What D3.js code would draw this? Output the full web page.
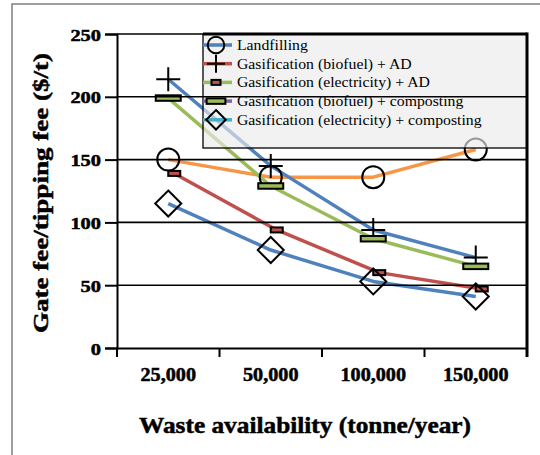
<!DOCTYPE html>
<html>
<head>
<meta charset="utf-8">
<script src="https://cdn.jsdelivr.net/npm/d3@7/dist/d3.min.js"></script>
<style>
  html, body { margin: 0; padding: 0; background: #fff; }
  svg { display: block; }
  text { font-family: "Liberation Serif", "Times New Roman", serif; }
</style>
</head>
<body>
<svg id="chart" width="540" height="455"></svg>
<script>
// Waste availability categories (tonne/year)
const categories = ["25,000", "50,000", "100,000", "150,000"];
const yTicks = [0, 50, 100, 150, 200, 250];

// Gate fee / tipping fee ($/t) per scenario
const seriesNames = [
  "Landfilling",
  "Gasification (biofuel) + AD",
  "Gasification (electricity) + AD",
  "Gasification (biofuel) + composting",
  "Gasification (electricity) + composting"
];
const landfilling = [150, 136, 136, 158];
const biofuelAD = [214, 145, 94, 72];
const electricityAD = [139, 94, 60, 47];
const biofuelComposting = [199, 129, 87, 65];
const electricityComposting = [115, 78, 53, 41];
const seriesValues = [landfilling, biofuelAD, electricityAD, biofuelComposting, electricityComposting];

// Styling per series
const plotLineColors = ["#f79646", "#4f81bd", "#c0504d", "#9bbb59", "#4f81bd"];
const legendLineColors = ["#4f81bd", "#c0504d", "#9bbb59", "#8064a2", "#4bacc6"];
const markerTypes = ["circle", "plus", "smallRect", "wideRect", "diamond"];
const markerShift = [0, 0, 6, 0, 0];

const svg = d3.select("#chart");
const plotLeft = 117, plotRight = 527, plotTop = 34, plotBottom = 348;

const x = d3.scaleBand().domain(categories).range([plotLeft, plotRight]).padding(0);
const y = d3.scaleLinear().domain([0, 250]).range([plotBottom, plotTop]);

// outer frame (top and left edges)
svg.append("path").attr("d", "M12,455 L12,4 L540,4")
  .attr("fill", "none").attr("stroke", "#7f7f7f").attr("stroke-width", 1.5);

// horizontal stretch helpers for text
function stretch(sel, factor) {
  sel.each(function () {
    const w = this.getComputedTextLength();
    d3.select(this).attr("textLength", w * factor).attr("lengthAdjust", "spacingAndGlyphs");
  });
}
function fitTo(sel, width) {
  sel.attr("textLength", width).attr("lengthAdjust", "spacingAndGlyphs");
}

// data lines
const line = d3.line();
const lines = svg.append("g");
seriesValues.forEach((vals, i) => {
  const pts = vals.map((v, j) => [x(categories[j]) + x.bandwidth() / 2 + markerShift[i], y(v)]);
  lines.append("path").attr("d", line(pts)).attr("fill", "none")
    .attr("stroke", plotLineColors[i]).attr("stroke-width", 3.5)
    .attr("stroke-linejoin", "round");
});

// marker drawing
function drawMarker(g, type, cx, cy, s) {
  if (type === "circle") {
    g.append("circle").attr("cx", cx).attr("cy", cy).attr("r", 11 * s)
      .attr("fill", "none").attr("stroke", "#000").attr("stroke-width", 2);
  } else if (type === "plus") {
    const h = 12 * s;
    g.append("path").attr("d", `M${cx - h},${cy} L${cx + h},${cy} M${cx},${cy - h} L${cx},${cy + h}`)
      .attr("stroke", "#000").attr("stroke-width", 2);
  } else if (type === "smallRect") {
    const w = 12 * s, hh = 5;
    g.append("rect").attr("x", cx - w / 2).attr("y", cy - hh / 2).attr("width", w).attr("height", hh)
      .attr("fill", "#c0504d").attr("stroke", "#000").attr("stroke-width", 2);
  } else if (type === "wideRect") {
    const w = 25 * s, hh = 5.5;
    g.append("rect").attr("x", cx - w / 2).attr("y", cy - hh / 2).attr("width", w).attr("height", hh)
      .attr("fill", "#9bbb59").attr("stroke", "#000").attr("stroke-width", 2);
  } else if (type === "diamond") {
    const d = 13 * s;
    g.append("path").attr("d", `M${cx},${cy - d} L${cx + d},${cy} L${cx},${cy + d} L${cx - d},${cy} Z`)
      .attr("fill", "none").attr("stroke", "#000").attr("stroke-width", 2);
  }
}

const markers = svg.append("g");
seriesValues.forEach((vals, i) => {
  vals.forEach((v, j) => {
    drawMarker(markers, markerTypes[i], x(categories[j]) + x.bandwidth() / 2 + markerShift[i], y(v), 1);
  });
});

// legend panel (translucent, sits over the data)
const lgX = 203, lgY = plotTop, lgW = plotRight - 203, lgH = 148 - plotTop;
svg.append("rect").attr("x", lgX).attr("y", lgY).attr("width", lgW).attr("height", lgH)
  .attr("fill", "#ebebeb").attr("fill-opacity", 0.65)
  .attr("stroke", "#000").attr("stroke-width", 1.3);

// gridlines
svg.append("g").selectAll("line").data(yTicks.filter(t => t > 0)).join("line")
  .attr("x1", plotLeft).attr("x2", plotRight).attr("y1", d => y(d)).attr("y2", d => y(d))
  .attr("stroke", "#000").attr("stroke-width", 1.6);

// legend border emphasis (top)
svg.append("path").attr("d", `M${lgX},${lgY} L${plotRight},${lgY}`)
  .attr("stroke", "#000").attr("stroke-width", 3);

// legend entries
const legend = svg.append("g");
seriesNames.forEach((name, i) => {
  const cy = 45 + i * 18.7;
  legend.append("line").attr("x1", 203).attr("x2", 232).attr("y1", cy).attr("y2", cy)
    .attr("stroke", legendLineColors[i]).attr("stroke-width", 3.5);
  drawMarker(legend, markerTypes[i], 216, cy, 0.75);
  legend.append("text").attr("class", "lg").attr("x", 237).attr("y", cy + 5)
    .attr("font-size", 15).attr("fill", "#000").text(name);
});

// y axis
const yAxis = svg.append("g").attr("transform", `translate(${plotLeft},0)`)
  .call(d3.axisLeft(y).tickValues(yTicks).tickSize(12).tickPadding(4).tickFormat(d3.format("d")));
yAxis.select(".domain").attr("stroke", "#000").attr("stroke-width", 2);
yAxis.selectAll(".tick line").attr("stroke", "#000").attr("stroke-width", 2);
yAxis.selectAll(".tick text").attr("font-family", "Liberation Serif").attr("font-size", 17)
  .attr("font-weight", "bold").attr("fill", "#000").attr("dy", "0.36em")
  .attr("stroke", "#000").attr("stroke-width", 0.5);

// x axis
const xAxis = svg.append("g").attr("transform", `translate(0,${plotBottom})`)
  .call(d3.axisBottom(x).tickSize(0).tickPadding(20));
xAxis.select(".domain").attr("stroke", "#000").attr("stroke-width", 2);
xAxis.selectAll(".tick text").attr("font-family", "Liberation Serif").attr("font-size", 18)
  .attr("font-weight", "bold").attr("fill", "#000")
  .attr("stroke", "#000").attr("stroke-width", 0.5);
const bounds = categories.map(c => x(c)).concat([plotRight]);
svg.append("g").selectAll("line").data(bounds).join("line")
  .attr("x1", d => d).attr("x2", d => d).attr("y1", plotBottom).attr("y2", plotBottom + 9)
  .attr("stroke", "#000").attr("stroke-width", 2);

// right frame of plot
svg.append("line").attr("x1", plotRight).attr("x2", plotRight).attr("y1", plotTop - 1.5).attr("y2", plotBottom + 9)
  .attr("stroke", "#000").attr("stroke-width", 3);

// axis titles
const xTitle = svg.append("text").attr("x", 305).attr("y", 433).attr("text-anchor", "middle")
  .attr("font-size", 23).attr("font-weight", "bold").attr("fill", "#000")
  .attr("stroke", "#000").attr("stroke-width", 0.5)
  .text("Waste availability (tonne/year)");
const yTitle = svg.append("text").attr("transform", "translate(48,193) rotate(-90)")
  .attr("text-anchor", "middle").attr("font-size", 22).attr("font-weight", "bold").attr("fill", "#000")
  .attr("stroke", "#000").attr("stroke-width", 0.5)
  .text("Gate fee/tipping fee ($/t)");

// widen glyphs to the typeset width
stretch(svg.selectAll("text.lg"), 1.05);
stretch(yAxis.selectAll(".tick text"), 1.2);
stretch(xAxis.selectAll(".tick text"), 1.12);
fitTo(xTitle, 332);
fitTo(yTitle, 280);
</script>
</body>
</html>
